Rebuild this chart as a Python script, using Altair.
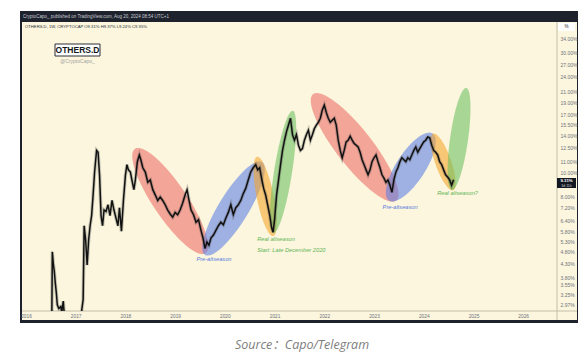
import math
import altair as alt
import pandas as pd

# ---------------- data ----------------
years = [2016.52, 2016.53, 2016.55, 2016.57, 2016.59, 2016.61, 2016.63, 2016.66, 2016.70, 2016.72,
         2016.75, 2016.77, 2016.90, 2017.10, 2017.15, 2017.17, 2017.20, 2017.23, 2017.26, 2017.29,
         2017.32, 2017.35, 2017.38, 2017.42, 2017.45, 2017.48, 2017.51, 2017.54, 2017.57, 2017.61,
         2017.65, 2017.69, 2017.73, 2017.77, 2017.81, 2017.85, 2017.88, 2017.92, 2017.96, 2018.00,
         2018.03, 2018.06, 2018.10, 2018.13, 2018.17, 2018.20, 2018.24, 2018.28, 2018.31, 2018.35,
         2018.40, 2018.45, 2018.50, 2018.55, 2018.60, 2018.65, 2018.70, 2018.75, 2018.80, 2018.85,
         2018.90, 2018.95, 2019.00, 2019.05, 2019.10, 2019.15, 2019.20, 2019.24, 2019.28, 2019.32,
         2019.37, 2019.42, 2019.47, 2019.52, 2019.56, 2019.60, 2019.64, 2019.68, 2019.72, 2019.77,
         2019.82, 2019.87, 2019.92, 2019.97, 2020.02, 2020.07, 2020.12, 2020.17, 2020.22, 2020.27,
         2020.32, 2020.37, 2020.42, 2020.47, 2020.52, 2020.57, 2020.62, 2020.66, 2020.70, 2020.74,
         2020.78, 2020.82, 2020.86, 2020.90, 2020.94, 2020.97, 2021.00, 2021.04, 2021.08, 2021.12,
         2021.16, 2021.20, 2021.24, 2021.28, 2021.32, 2021.36, 2021.40, 2021.44, 2021.48, 2021.52,
         2021.56, 2021.60, 2021.64, 2021.68, 2021.72, 2021.76, 2021.80, 2021.84, 2021.88, 2021.92,
         2021.96, 2022.00, 2022.04, 2022.08, 2022.12, 2022.16, 2022.20, 2022.24, 2022.28, 2022.32,
         2022.36, 2022.40, 2022.44, 2022.48, 2022.52, 2022.56, 2022.60, 2022.64, 2022.68, 2022.72,
         2022.76, 2022.80, 2022.84, 2022.88, 2022.92, 2022.96, 2023.00, 2023.04, 2023.08, 2023.12,
         2023.16, 2023.20, 2023.24, 2023.28, 2023.32, 2023.36, 2023.40, 2023.44, 2023.48, 2023.52,
         2023.56, 2023.60, 2023.64, 2023.68, 2023.72, 2023.76, 2023.80, 2023.84, 2023.88, 2023.92,
         2023.96, 2024.00, 2024.04, 2024.08, 2024.12, 2024.16, 2024.20, 2024.24, 2024.28, 2024.32,
         2024.36, 2024.40, 2024.44, 2024.48, 2024.52, 2024.56, 2024.60]
dominance = [2.70, 4.80, 4.30, 4.00, 3.60, 3.30, 2.95, 2.85, 2.90, 2.75,
             3.05, 2.70, 2.55, 2.60, 3.10, 6.10, 5.35, 4.25, 5.35, 6.10,
             6.70, 8.10, 10.0, 12.2, 12.0, 9.70, 6.70, 6.10, 7.05, 6.95,
             7.40, 6.70, 7.70, 7.05, 6.55, 6.10, 7.20, 5.80, 7.70, 9.70,
             10.7, 10.2, 10.0, 9.30, 8.50, 9.30, 11.0, 11.7, 11.2, 10.4,
             10.0, 9.10, 9.30, 8.50, 8.10, 7.70, 7.95, 7.70, 7.40, 7.05,
             6.80, 6.60, 6.90, 6.75, 7.05, 7.50, 8.10, 8.50, 7.70, 7.05,
             6.75, 6.30, 6.45, 5.85, 5.45, 4.95, 5.25, 5.10, 5.45, 5.60,
             5.85, 6.10, 6.30, 6.15, 6.55, 6.90, 7.40, 6.75, 7.20, 7.40,
             7.70, 8.20, 8.60, 9.30, 10.0, 10.4, 10.7, 10.2, 10.4, 9.40,
             8.60, 8.10, 7.40, 6.75, 6.00, 5.75, 6.45, 8.10, 9.30, 10.7,
             12.2, 13.4, 14.5, 15.4, 16.4, 14.1, 13.4, 14.1, 12.8, 12.2,
             12.4, 13.4, 14.1, 14.7, 13.4, 14.1, 14.9, 15.4, 15.8, 16.4,
             17.7, 18.5, 17.3, 16.4, 15.8, 16.1, 16.4, 15.4, 13.4, 12.2,
             11.4, 12.2, 13.2, 13.4, 13.9, 13.4, 13.0, 12.8, 12.6, 12.0,
             11.2, 10.7, 10.2, 9.75, 10.2, 11.0, 11.4, 11.7, 11.0, 10.4,
             9.75, 9.45, 9.10, 9.30, 8.85, 8.30, 9.30, 10.0, 10.4, 11.0,
             11.4, 11.2, 11.0, 11.4, 11.2, 11.7, 12.2, 12.6, 12.0, 12.4,
             12.8, 13.2, 13.4, 13.8, 13.7, 12.8, 12.2, 12.0, 11.7, 11.0,
             10.7, 10.2, 9.75, 9.55, 9.30, 8.85, 9.31]

y_ticks = [2.97, 3.25, 3.55, 3.80, 4.30, 4.80, 5.30, 5.80, 6.40, 7.20, 8.00,
           10.00, 11.00, 12.50, 14.00, 15.50, 17.00, 19.00, 21.00, 24.00, 27.00, 30.00, 34.00]
x_ticks = [2016, 2017, 2018, 2019, 2020, 2021, 2022, 2023, 2024, 2025, 2026]

# highlighted phases (ellipses): centre year, centre value
phase_year = [2018.90, 2020.175, 2020.81, 2021.17, 2022.61, 2023.74, 2024.39, 2024.71]
phase_value = [7.66, 7.15, 7.99, 10.0, 12.55, 10.47, 10.97, 13.55]
phase_kind = ["down", "pre", "dip", "alt", "down", "pre", "dip", "alt"]

label_text = ["Pre-altseason", "Pre-altseason", "Real altseason", "Start: Late December 2020", "Real altseason?"]
label_year = [2019.78, 2023.525, 2020.65, 2020.65, 2024.27]
label_value = [4.49, 7.25, 5.40, 4.88, 8.25]
label_kind = ["pre", "pre", "alt", "alt", "alt"]
last_price = 9.31

# ---------------- styling ----------------
W, H = 535, 289
CREAM = "#fbf6dd"
DARK = "#1e222d"
SEP = "#c2bea9"
AXIS_TXT = "#6f7280"
FONT = "Liberation Sans"
fill_of = {"down": "#ee6a66", "pre": "#5d80e6", "dip": "#f4a52a", "alt": "#6cc160"}
text_of = {"pre": "#5a7be0", "alt": "#62b555"}
# geometry of each ellipse in pixels: (length, width, rotation)
geom = [(126, 34, 56.0), (109, 30, 121.5), (81, 17, 78.5), (124, 18, 99.0),
        (135, 36, 52.0), (80, 29, 123.0), (60, 16, 70.6), (103, 18, 98.0)]


def ellipse_path(ratio, n=64):
    pts = []
    for i in range(n):
        t = 2 * math.pi * i / n
        pts.append(f"{math.cos(t):.4f},{ratio * math.sin(t):.4f}")
    return "M" + " L".join(pts) + " Z"


xs = alt.Scale(domain=[2015.92, 2026.68], nice=False, zero=False)
ys = alt.Scale(type="log", domain=[2.785, 39.75], nice=False)
x_axis = alt.Axis(values=x_ticks, format="d", title=None, domain=False, ticks=False, grid=False,
                  labelFontSize=4.8, labelColor=AXIS_TXT, labelPadding=2, labelFont=FONT,
                  labelOverlap=False, labelFlush=False, zindex=1)
y_axis = alt.Axis(values=y_ticks, orient="right", title=None, domain=False, ticks=False, grid=False,
                  labelExpr="format(datum.value, '.2f') + '%'", labelFontSize=5, labelColor=AXIS_TXT,
                  labelPadding=3, labelFont=FONT, labelOverlap=False, labelFlush=False,
                  labelBaseline="middle", zindex=1)
X = lambda f="yr": alt.X(f"{f}:Q", scale=xs, axis=x_axis)
Y = lambda f="v": alt.Y(f"{f}:Q", scale=ys, axis=y_axis)

one = pd.DataFrame({"k": [0]})


def box(x1, y1, x2, y2, fill, stroke=None, sw=0.0):
    kw = dict(fill=fill)
    if stroke:
        kw.update(stroke=stroke, strokeWidth=sw)
    return alt.Chart(one).mark_rect(**kw).encode(
        x=alt.value(x1), x2=alt.value(x2), y=alt.value(y1), y2=alt.value(y2))


def label(x, y, text, size, color, align="left", weight="normal", style="normal", font=FONT):
    return alt.Chart(one).mark_text(text=text, fontSize=size, color=color, align=align,
                                    baseline="middle", fontWeight=weight, fontStyle=style,
                                    font=font).encode(x=alt.value(x), y=alt.value(y))


price = pd.DataFrame({"yr": years, "v": dominance})

ell = pd.DataFrame({
    "yr": phase_year, "v": phase_value,
    "c": [fill_of[k] for k in phase_kind],
    "shape": [ellipse_path(g[1] / g[0]) for g in geom],
    "size": [g[0] ** 2 for g in geom],
    "ang": [g[2] for g in geom],
})
ellipses = alt.Chart(ell).mark_point(filled=True, opacity=0.58, strokeWidth=0).encode(
    x=X(), y=Y(),
    color=alt.Color("c:N", scale=None),
    shape=alt.Shape("shape:N", scale=None),
    size=alt.Size("size:Q", scale=None),
    angle=alt.Angle("ang:Q", scale=None),
)

wick = alt.Chart(price).mark_line(color="#444444", strokeWidth=3.4, opacity=0.3, clip=True).encode(
    x=X(), y=Y(), order="yr:Q")
body = alt.Chart(price).mark_line(color="#111111", strokeWidth=1.5, clip=True).encode(
    x=X(), y=Y(), order="yr:Q")

labs = pd.DataFrame({"yr": label_year, "v": label_value, "t": label_text,
                     "c": [text_of[k] for k in label_kind]})
lab_center = alt.Chart(labs.iloc[:2]).mark_text(fontSize=5.7, fontStyle="italic", font=FONT,
                                                align="center", baseline="middle").encode(
    x=X(), y=Y(), text="t:N", color=alt.Color("c:N", scale=None))
lab_left = alt.Chart(labs.iloc[2:]).mark_text(fontSize=5.7, fontStyle="italic", font=FONT,
                                              align="left", baseline="middle").encode(
    x=X(), y=Y(), text="t:N", color=alt.Color("c:N", scale=None))

tag = pd.DataFrame({"v": [last_price]})
tag_box = alt.Chart(tag).mark_rect(fill="#131722").encode(
    x=alt.value(535), x2=alt.value(554), y=alt.value(156), y2=alt.value(166))

layers = [
    box(-2, -11, 557, 301, DARK),
    box(0, 0, 555, 298, CREAM),
    alt.Chart(one).mark_rule(color=SEP, strokeWidth=1).encode(
        x=alt.value(0), x2=alt.value(555), y=alt.value(289)),
    alt.Chart(one).mark_rule(color=SEP, strokeWidth=1).encode(
        x=alt.value(535), y=alt.value(0), y2=alt.value(298)),
    ellipses, wick, body, lab_center, lab_left,
    label(1, -5.5, "CryptoCapo_ published on TradingView.com, Aug 20, 2024 08:54 UTC+1", 4.5, "#c9ccd4"),
    label(3, 5, "OTHERS.D, 1W, CRYPTOCAP  O9.31%  H9.37%  L9.24%  C9.35%", 4.2, "#2a2e39"),
    box(33, 22, 78, 34, "#ffffff", "#2a2e39", 1),
    label(55.5, 28.2, "OTHERS.D", 8.5, "#131722", align="center", weight="bold"),
    label(55.5, 39, "@CryptoCapo_", 5, "#a3a3a3", align="center"),
    box(536, 1, 553, 9, "#ffffff"),
    label(544.5, 5, "%", 4.5, "#2a2e39", align="center"),
    tag_box,
    label(544.5, 159, "9.31%", 4.3, "#ffffff", align="center", weight="bold"),
    label(544.5, 163.5, "3d 11h", 3.5, "#d0d0d0", align="center"),
    label(280, 323, "Source\uff1aCapo/Telegram", 12.5, "#7d7d7d", align="center", style="italic",
          font="Open Sans, Noto Sans CJK SC"),
]

chart = alt.layer(*layers).properties(
    width=W, height=H,
    padding={"left": 14, "top": 14, "right": 21, "bottom": 44},
    autosize=alt.AutoSizeParams(type="none"),
    background="#ffffff",
).configure_view(stroke=None)

chart.save("out.html", embed_options={"renderer": "svg", "actions": False})
